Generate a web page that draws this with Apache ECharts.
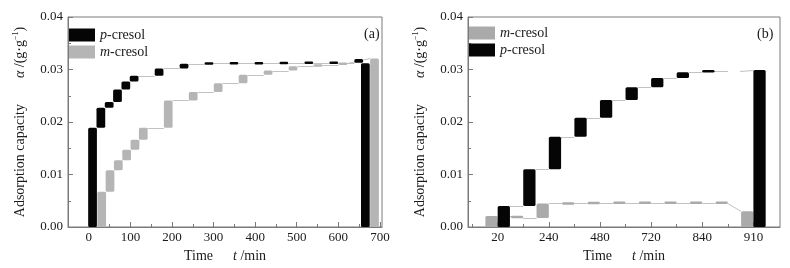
<!doctype html>
<html lang="en">
<head>
<meta charset="utf-8">
<title>Adsorption capacity - p-cresol / m-cresol</title>
<script src="https://cdn.jsdelivr.net/npm/echarts@6/dist/echarts.min.js"></script>
<style>
  html, body { margin: 0; padding: 0; background: #fff; }
  .panel { position: absolute; top: 0; width: 395px; height: 268px; }
  #chartA { left: 0; }
  #chartB { left: 395px; }
</style>
</head>
<body>
<div id="chartA" class="panel"></div>
<div id="chartB" class="panel"></div>
<script>
    // (a) time axis in min, values in g/g (cumulative level after each step)
    var timesPA = [20, 40, 60, 80, 100, 120, 180, 240, 300, 360, 420, 480, 540, 600, 660];
    var pCresolA = [0.0189, 0.0227, 0.0238, 0.0262, 0.0277, 0.0288, 0.0302, 0.0311, 0.0312, 0.0312, 0.0312, 0.0313, 0.0313, 0.0313, 0.0320];
    var pTotalA = 0.0312;
    var timesMA = [20, 40, 60, 80, 100, 120, 180, 240, 300, 360, 420, 480, 540, 600];
    var mCresolA = [0.0067, 0.0108, 0.0127, 0.0147, 0.0166, 0.0189, 0.0241, 0.0257, 0.0274, 0.0290, 0.0298, 0.0306, 0.0309, 0.0313];
    var mTotalA = 0.0321;
    var xTicksA = [0, 100, 200, 300, 400, 500, 600, 700];

    // (b) category slots (tick labels on every second slot), last slot = total
    var tickLabelsB = ['20', '240', '480', '720', '840', '910'];
    var mCresolB = [0.0021, 0.0017, 0.0045, 0.0045, 0.0046, 0.0046, 0.0046, 0.0046, 0.0046, 0.0046];
    var mTotalB = 0.0030;
    var pCresolB = [0.0040, 0.0110, 0.0172, 0.0208, 0.0242, 0.0266, 0.0284, 0.0295, 0.0298, null];
    var pTotalB = 0.0299;

    var FONT = 'Liberation Serif';
    var AXIS_C = '#7a7a7a';
    var TEXT_C = '#1a1a1a';

    // waterfall bars: [x, low, high]
    function buildBars(xs, levels, totalX, total) {
        var res = [];
        var prev = 0;
        for (var i = 0; i < levels.length; i++) {
            if (levels[i] == null) { continue; }
            res.push([xs[i], prev, levels[i]]);
            prev = levels[i];
        }
        res.push([totalX, 0, total]);
        return res;
    }
    // thin connector lines between bars: [x1, y1, x2, y2]
    function buildLinks(xs, levels, totalX, total, w) {
        var res = [];
        var lv = [];
        var prev = 0;
        for (var i = 0; i < levels.length; i++) {
            prev = levels[i] == null ? prev : levels[i];
            lv.push(prev);
        }
        for (var j = 0; j < lv.length - 1; j++) {
            res.push([xs[j] + w / 2, lv[j], xs[j + 1] - w / 2, lv[j]]);
        }
        var k = lv.length - 1;
        res.push([xs[k] + w / 2, lv[k], totalX - w / 2, total]);
        return res;
    }
    function shift(arr, d) {
        return arr.map(function (v) { return v + d; });
    }
    function barRender(w) {
        return function (params, api) {
            var x = api.value(0), lo = api.value(1), hi = api.value(2);
            var p1 = api.coord([x - w / 2, Math.max(lo, hi)]);
            var p2 = api.coord([x + w / 2, Math.min(lo, hi)]);
            var top = p1[1], h = p2[1] - p1[1];
            if (h < 2.5) { top -= (2.5 - h) / 2; h = 2.5; }
            return {
                type: 'rect',
                shape: {x: p1[0], y: top, width: p2[0] - p1[0], height: h, r: 1.5},
                style: api.style()
            };
        };
    }
    function linkRender(params, api) {
        var p1 = api.coord([api.value(0), api.value(1)]);
        var p2 = api.coord([api.value(2), api.value(3)]);
        return {
            type: 'line',
            shape: {x1: p1[0], y1: Math.round(p1[1]) + 0.5, x2: p2[0], y2: Math.round(p2[1]) + 0.5},
            style: {stroke: '#c2c2c2', lineWidth: 1}
        };
    }

    // layout
    var wA = 21, offA = 11, totalAtA = 676;
    var wB = 0.48, offB = 0.24, totalAtB = 10;
    var slotsB = mCresolB.map(function (v, i) { return i; });

    var xPA = shift(timesPA, -offA), xMA = shift(timesMA, offA);
    var xPB = shift(slotsB, offB), xMB = shift(slotsB, -offB);

    var labelNames = {pa: '{i|p}{n|-cresol}', ma: '{i|m}{n|-cresol}', pb: '{i|p}{n|-cresol}', mb: '{i|m}{n|-cresol}'};
    var rich = {
        n: {fontFamily: FONT, fontSize: 14, color: TEXT_C, lineHeight: 16},
        i: {fontFamily: FONT, fontSize: 14, color: TEXT_C, fontStyle: 'italic', lineHeight: 16},
        gi: {fontFamily: FONT, fontSize: 14, color: TEXT_C, fontStyle: 'italic', lineHeight: 16, padding: [0, 0, 0, 26]},
        ti: {fontFamily: FONT, fontSize: 14, color: TEXT_C, fontStyle: 'italic', lineHeight: 16, padding: [0, 0, 0, 20]},
        s: {fontFamily: FONT, fontSize: 8, color: TEXT_C, verticalAlign: 'top', lineHeight: 16}
    };
    var yName = '{n|Adsorption capacity}{gi|α}{n| /(g·g}{s|−1}{n|)}';
    var xName = '{n|Time}{ti|t}{n| /min}';

    function panelOption(p) {
        return {
            backgroundColor: '#fff',
            animation: false,
            title: {text: p.tag, left: p.tagLeft, top: 22, textStyle: {fontFamily: FONT, fontSize: 14, fontWeight: 'normal', color: TEXT_C}},
            legend: {
                data: p.legend, left: p.left - 4, top: p.legendTop, orient: 'vertical',
                itemWidth: 26, itemHeight: 13, itemGap: 3, icon: 'rect', selectedMode: false,
                formatter: function (n) { return labelNames[n]; },
                textStyle: {fontFamily: FONT, fontSize: 14, color: TEXT_C, rich: rich}
            },
            grid: {left: p.left, top: 17, width: p.width, height: 210, show: true, borderColor: AXIS_C, borderWidth: 1},
            xAxis: [{
                type: 'value', min: p.min, max: p.max,
                name: xName, nameLocation: 'middle', nameGap: 20, nameTextStyle: {rich: rich},
                axisLine: {show: true, onZero: false, lineStyle: {color: AXIS_C}},
                axisTick: {show: true, inside: true, length: 5, customValues: p.major, lineStyle: {color: AXIS_C}},
                axisLabel: {fontFamily: FONT, fontSize: 13, color: TEXT_C, margin: 4, customValues: p.major, formatter: p.fmt},
                splitLine: {show: false}
            }, {
                // minor ticks
                type: 'value', position: 'bottom', min: p.min, max: p.max,
                axisLine: {show: false, onZero: false},
                axisTick: {show: true, inside: true, length: 3, customValues: p.minor, lineStyle: {color: AXIS_C}},
                axisLabel: {show: false},
                splitLine: {show: false}
            }],
            yAxis: {
                type: 'value', min: 0, max: 0.04, interval: 0.01,
                name: yName, nameLocation: 'middle', nameGap: 40,
                nameTextStyle: {rich: rich},
                axisLine: {show: true, onZero: false, lineStyle: {color: AXIS_C}},
                axisTick: {show: true, inside: true, length: 5, lineStyle: {color: AXIS_C}},
                minorTick: {show: true, splitNumber: 2, length: 3, lineStyle: {color: AXIS_C}},
                splitLine: {show: false},
                axisLabel: {
                    fontFamily: FONT, fontSize: 13, color: TEXT_C, margin: 5,
                    formatter: function (v) { return v.toFixed(2); }
                }
            },
            series: p.series
        };
    }

    var chartA = echarts.init(document.getElementById('chartA'));
    chartA.setOption(panelOption({
        tag: '(a)', tagLeft: 359, left: 68, width: 314, legendTop: 23, legend: ['pa', 'ma'],
        min: -50, max: 705, major: xTicksA,
        minor: xTicksA.slice(0, -1).map(function (v) { return v + 50; }),
        fmt: function (v) { return String(v); },
        series: [{
            type: 'custom', name: 'linksA', z: 1,
            encode: {x: [0, 2], y: [1, 3]},
            renderItem: linkRender,
            data: buildLinks(xPA, pCresolA, totalAtA - offA, pTotalA, wA)
                .concat(buildLinks(xMA, mCresolA, totalAtA + offA, mTotalA, wA))
        }, {
            type: 'custom', name: 'ma', z: 2,
            itemStyle: {color: '#b5b5b5'},
            encode: {x: 0, y: [1, 2]},
            renderItem: barRender(wA),
            data: buildBars(xMA, mCresolA, totalAtA + offA, mTotalA)
        }, {
            type: 'custom', name: 'pa', z: 3,
            itemStyle: {color: '#050505'},
            encode: {x: 0, y: [1, 2]},
            renderItem: barRender(wA),
            data: buildBars(xPA, pCresolA, totalAtA - offA, pTotalA)
        }]
    }));

    var chartB = echarts.init(document.getElementById('chartB'));
    chartB.setOption(panelOption({
        tag: '(b)', tagLeft: 357, left: 73, width: 312, legendTop: 21, legend: ['mb', 'pb'],
        min: -1.16, max: 11.04, major: [0, 2, 4, 6, 8, 10], minor: [-1, 1, 3, 5, 7, 9],
        fmt: function (v) { return tickLabelsB[Math.round(v / 2)]; },
        series: [{
            type: 'custom', name: 'linksB', z: 1,
            encode: {x: [0, 2], y: [1, 3]},
            renderItem: linkRender,
            data: buildLinks(xMB, mCresolB, totalAtB - offB, mTotalB, wB)
                .concat(buildLinks(xPB, pCresolB, totalAtB + offB, pTotalB, wB))
        }, {
            type: 'custom', name: 'mb', z: 2,
            itemStyle: {color: '#aaaaaa'},
            encode: {x: 0, y: [1, 2]},
            renderItem: barRender(wB),
            data: buildBars(xMB, mCresolB, totalAtB - offB, mTotalB)
        }, {
            type: 'custom', name: 'pb', z: 3,
            itemStyle: {color: '#050505'},
            encode: {x: 0, y: [1, 2]},
            renderItem: barRender(wB),
            data: buildBars(xPB, pCresolB, totalAtB + offB, pTotalB)
        }]
    }));
</script>
</body>
</html>
